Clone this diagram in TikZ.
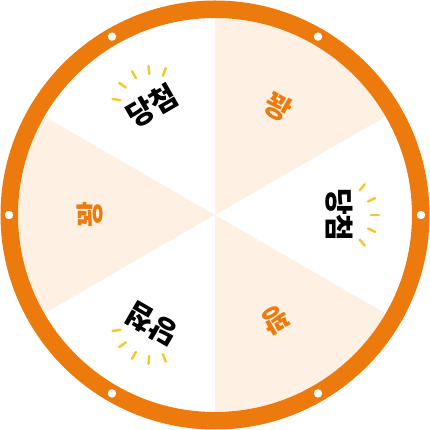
\documentclass[tikz,border=0pt]{standalone}
\usepackage{fontspec}
\newfontfamily\kor{Noto Sans CJK KR}
\definecolor{wheelorange}{RGB}{237,122,12}
\definecolor{wheelpeach}{RGB}{254,241,228}
\definecolor{rayyellow}{RGB}{247,198,40}

\begin{document}
\begin{tikzpicture}[
    x=1pt, y=1pt,
    win/.style={font=\kor\bfseries\fontsize{29}{29}\selectfont, text=black, inner sep=0pt},
    lose/.style={font=\kor\bfseries\fontsize{28}{28}\selectfont, text=wheelorange, inner sep=0pt},
    ray/.style={draw=rayyellow, line width=2.4pt, line cap=round}
]
\useasboundingbox (-215,-215) rectangle (215,215);

% -------------------------
% Slices
% -------------------------
\foreach \a/\c in {-30/white, 30/wheelpeach, 90/white, 150/wheelpeach, 210/white, 270/wheelpeach}
    \fill[\c] (0,0) -- (\a:198) arc[start angle=\a, end angle=\a+60, radius=198] -- cycle;

% -------------------------
% Rim and dots
% -------------------------
\draw[wheelorange, line width=17.5] (0,0) circle (205.75);
\foreach \a in {0,60,...,300}
    \fill[white] (\a:206) circle (4.2);

% -------------------------
% Labels
% -------------------------
\node[win, rotate=-90] (win1) at (0:124) {당첨};
\node[lose, rotate=-30] (lose1) at (60:125) {꽝};
\node[win, rotate=30] (win2) at (120:126) {당첨};
\node[lose, rotate=90] (lose2) at (180:125) {꽝};
\node[win, rotate=150] (win3) at (240:126) {당첨};
\node[lose, rotate=210] (lose3) at (300:121) {꽝};

% rays round each win label
\foreach \n/\a in {win1/0, win2/120, win3/240}
    \foreach \d in {-50,-25,0,25,50}
        \draw[ray] (\n.center) ++(\a+\d:32) -- ++(\a+\d:8);

\end{tikzpicture}
\end{document}
